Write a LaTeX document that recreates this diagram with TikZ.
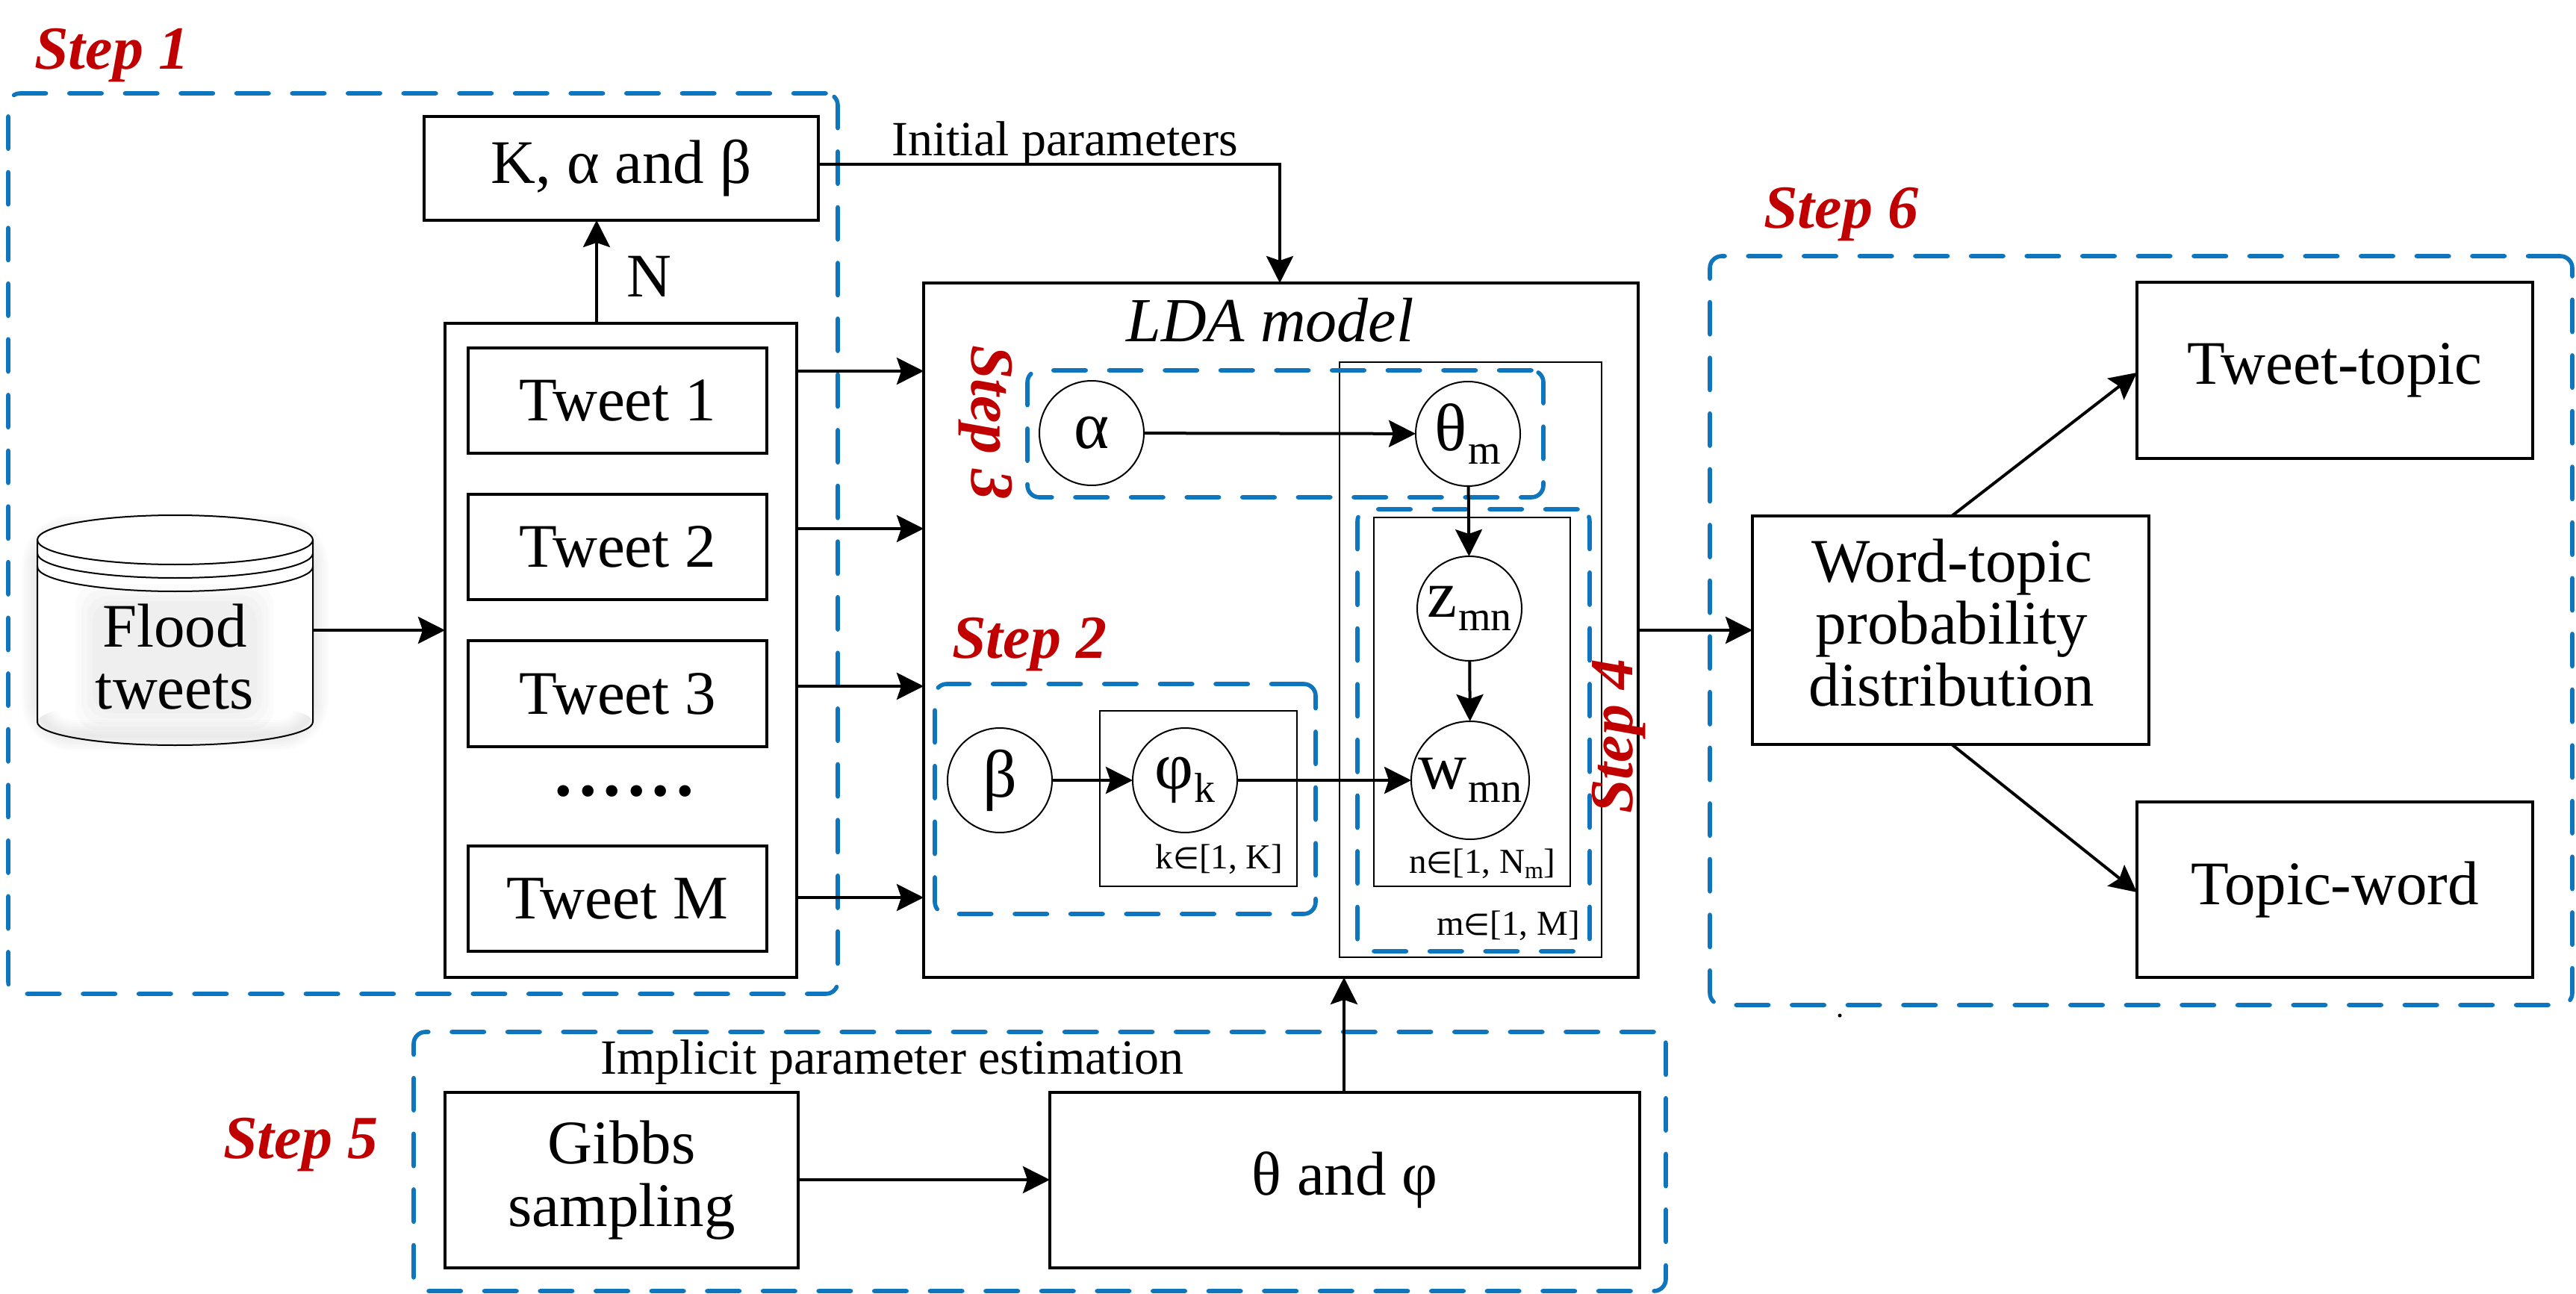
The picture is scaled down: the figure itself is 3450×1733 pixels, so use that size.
\documentclass[tikz,border=0pt]{standalone}
\usepackage{fontspec}
\setmainfont{Liberation Serif}
\newfontfamily\mathsym{DejaVu Sans}
\usetikzlibrary{arrows.meta}
\definecolor{stepblue}{HTML}{0F75BD}
\definecolor{stepred}{HTML}{C00000}
\newcommand\rbox[7][]{%
  \pgfmathsetmacro\rw{(#5-#3)*.5}\pgfmathsetmacro\rh{(#6-#4)*.5}%
  \pgfmathsetmacro\rcx{(#3+#5)/2}\pgfmathsetmacro\rcy{(#4+#6)/2}%
  \node[#1,minimum width=\rw pt,minimum height=\rh pt] (#2) at (\rcx,\rcy) {#7};}
\newcommand\lowsub[1]{\kern1pt\raisebox{-.2em}{\fontsize{28}{28}\selectfont #1}}
\newcommand\circtext[1]{\makebox[0pt][c]{#1}}
\newcommand\elem{{\mathsym\fontsize{20}{20}\selectfont ∈}}
\tikzset{
  boldbox/.style={draw=black,line width=2pt,inner sep=0pt,outer sep=0pt,fill=white,font=\fontsize{41.5}{42}\selectfont,align=center},
  openbox/.style={draw=black,line width=2pt,inner sep=0pt,outer sep=0pt},
  thinbox/.style={draw=black,line width=1pt,inner sep=0pt,outer sep=0pt},
  stepbox/.style={draw=stepblue,line width=2.8pt,line cap=round,dash pattern=on 21.7pt off 15.6pt,rounded corners=8pt,inner sep=0pt,outer sep=0pt},
  varnode/.style={circle,draw=black,line width=1pt,fill=white,inner sep=0pt,outer sep=0pt,font=\fontsize{45}{46}\selectfont},
  arr/.style={draw=black,line width=2pt,-{Stealth[inset=3pt,length=18pt,width=18pt]}},
  steptext/.style={text=stepred,inner sep=0pt,font=\fontsize{41}{41.5}\selectfont\bfseries\itshape},
  mainlabel/.style={inner sep=0pt,font=\fontsize{41.5}{41.5}\selectfont,align=center},
  midlabel/.style={inner sep=0pt,font=\fontsize{33}{34}\selectfont},
  smalllabel/.style={inner sep=0pt,font=\fontsize{23.5}{24}\selectfont}
}
\begin{document}
\begin{tikzpicture}[x=.5pt,y=-.5pt]
\useasboundingbox[fill=white] (0,0) rectangle (3450,1733);
% cylinder glow
\foreach \g in {6,12,...,42}{
  \draw[black,opacity=.012,line width=\g*.5pt,rounded corners=24pt] (50,710) rectangle (419,985);
}
% cylinder
\fill[white] (50,723) arc[start angle=180,end angle=360,x radius=184.5,y radius=33] -- (419,967) arc[start angle=0,end angle=-180,x radius=184.5,y radius=31] -- cycle;
\foreach \g in {10,25,40,55}{
  \fill[black,opacity=.014,rounded corners=14pt] (234-105-\g*.5,810-\g*.5) rectangle (234+105+\g*.5,950+\g*.5);
}
\rbox[inner sep=0pt,outer sep=0pt]{flood}{50}{690}{419}{998}{}
\draw[black,line width=1pt] (50,723) arc[start angle=180,end angle=-180,x radius=184.5,y radius=33];
\draw[black,line width=1pt] (50,741) arc[start angle=180,end angle=0,x radius=184.5,y radius=33];
\draw[black,line width=1pt] (50,759) arc[start angle=180,end angle=0,x radius=184.5,y radius=33];
\draw[black,line width=1pt] (50,723) -- (50,967) arc[start angle=180,end angle=0,x radius=184.5,y radius=31] -- (419,723);
\node[mainlabel] (floodtext) at (234,880) {Flood\\tweets};

% dashed step frames
\rbox[stepbox]{s1}{11}{125}{1122}{1331}{}
\rbox[stepbox]{s5}{554}{1382}{2231}{1729}{}
\rbox[stepbox]{s6}{2290}{343}{3445}{1346}{}

% left column
\rbox[boldbox]{kab}{568}{156}{1096}{295}{K, α and β}
\rbox[boldbox]{tweets}{596}{433}{1067}{1309}{}
\rbox[boldbox]{tw1}{627}{466}{1027}{607}{Tweet 1}
\rbox[boldbox]{tw2}{627}{662}{1027}{803}{Tweet 2}
\rbox[boldbox]{tw3}{627}{858}{1027}{1000}{Tweet 3}
\rbox[boldbox]{twm}{627}{1133}{1027}{1274}{Tweet M}
\node[inner sep=0pt,font=\fontsize{65}{65}\selectfont] (dots) at (836,1060) {......};
\node[mainlabel] (nlab) at (869,370) {N};

% LDA
\rbox[openbox]{lda}{1237}{379}{2194}{1309}{}
\node[mainlabel,font=\fontsize{42}{42.5}\selectfont\itshape] (ldalab) at (1701,429) {LDA model};
\rbox[thinbox]{mplate}{1794}{485}{2145}{1282}{}
\rbox[thinbox]{nplate}{1840}{693}{2103}{1187}{}
\rbox[thinbox]{kplate}{1473}{952}{1737}{1187}{}
\rbox[stepbox]{s3}{1376}{496}{2067}{666}{}
\rbox[stepbox]{s2}{1252}{916}{1762}{1224}{}
\rbox[stepbox]{s4}{1818}{682}{2129}{1274}{}

\node[varnode,minimum size=70pt] (alpha) at (1462,580) {\circtext{α}};
\node[varnode,minimum size=70pt] (theta) at (1966,581) {\circtext{θ\lowsub{m}}};
\node[varnode,minimum size=70pt] (zmn) at (1968,815) {\circtext{z\lowsub{mn}}};
\node[varnode,minimum size=79pt] (wmn) at (1969,1045) {\circtext{w\lowsub{mn}}};
\node[varnode,minimum size=70pt] (beta) at (1339,1045) {\circtext{β}};
\node[varnode,minimum size=70pt] (phi) at (1587,1045) {\circtext{φ\lowsub{k}}};

\node[smalllabel] (klab) at (1633,1151) {k\elem[1, K]};
\node[smalllabel] (nmlab) at (1985,1157) {n\elem[1, N{\raisebox{-.15em}{\fontsize{16}{16}\selectfont m}}]};
\node[smalllabel] (mlab) at (2020,1240) {m\elem[1, M]};

% bottom
\rbox[boldbox]{gibbs}{596}{1463}{1069}{1698}{\fontsize{41.5}{46}\selectfont Gibbs\\sampling}
\rbox[boldbox]{tpbox}{1406}{1463}{2196}{1698}{θ and φ}
\node[midlabel] (impl) at (1195,1423) {Implicit parameter estimation};

% right
\rbox[boldbox]{word}{2347}{691}{2878}{997}{}
\node[mainlabel] (wordtext) at (2614,834) {Word-topic\\probability\\distribution};
\rbox[boldbox]{ttopic}{2862}{378}{3392}{614}{Tweet-topic}
\rbox[boldbox]{tword}{2862}{1074}{3392}{1309}{Topic-word}
\node[midlabel] (init) at (1426,193) {Initial parameters};
\fill[black] (2464,1360) circle[radius=2.5];

% step labels
\node[steptext] (t1) at (150,74) {Step 1};
\node[steptext] (t2) at (1379,863) {Step 2};
\node[steptext,rotate=-90] (t3) at (1320,566) {Step 3};
\node[steptext,rotate=90] (t4) at (2168,986) {Step 4};
\node[steptext] (t5) at (403,1533) {Step 5};
\node[steptext] (t6) at (2466,287) {Step 6};

% connectors
\draw[arr] (flood.east |- 0,844) -- (tweets.west |- 0,844);
\draw[arr] (tweets.north -| 799,0) -- (kab.south -| 799,0);
\draw[arr] (tweets.east |- 0,497) -- (lda.west |- 0,497);
\draw[arr] (tweets.east |- 0,708) -- (lda.west |- 0,708);
\draw[arr] (tweets.east |- 0,919) -- (lda.west |- 0,919);
\draw[arr] (tweets.east |- 0,1202) -- (lda.west |- 0,1202);
\draw[arr] (kab.east |- 0,220) -| (lda.north -| 1714,0);
\draw[arr] (alpha) -- (theta);
\draw[arr] (theta) -- (zmn);
\draw[arr] (zmn) -- (wmn);
\draw[arr] (beta) -- (phi);
\draw[arr] (phi) -- (wmn);
\draw[arr] (gibbs.east |- 0,1580) -- (tpbox.west |- 0,1580);
\draw[arr] (tpbox.north -| 1800,0) -- (lda.south -| 1800,0);
\draw[arr] (lda.east |- 0,844) -- (word.west |- 0,844);
\draw[arr] (word.north -| 2614,0) -- (ttopic.west |- 0,499);
\draw[arr] (word.south -| 2614,0) -- (tword.west |- 0,1195);
\end{tikzpicture}
\end{document}
